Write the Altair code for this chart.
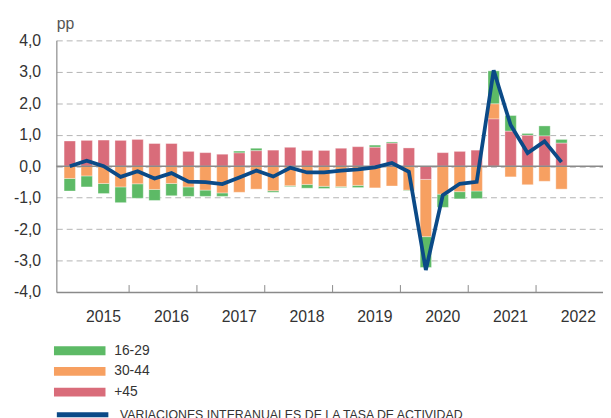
import altair as alt
import pandas as pd

# ---- data ----
years = [2015] * 4 + [2016] * 4 + [2017] * 4 + [2018] * 4 + [2019] * 4 + [2020] * 4 + [2021] * 4 + [2022] * 2
quarters = [1, 2, 3, 4] * 7 + [1, 2]

grupos = ["16-29", "30-44", "+45"]
colores = ["#5dba66", "#f7a061", "#d96c7a"]
orden = {"+45": 0, "30-44": 1, "16-29": 2}

g16_29 = [-0.40, -0.35, -0.32, -0.50, -0.46, -0.35, -0.39, -0.30, -0.20, -0.11,
          0.06, 0.08, -0.05, -0.03, -0.12, -0.07, -0.03, -0.07, 0.07, 0.04,
          -0.02, -0.98, -0.42, -0.23, -0.24, 1.05, 0.50, 0.06, 0.32, 0.12]
g30_44 = [-0.39, -0.31, -0.55, -0.66, -0.56, -0.74, -0.55, -0.66, -0.76, -0.85,
          -0.83, -0.73, -0.78, -0.62, -0.58, -0.64, -0.65, -0.61, -0.69, -0.63,
          -0.76, -1.82, -0.89, -0.81, -0.79, 0.48, -0.34, -0.59, -0.48, -0.73]
g45 = [0.80, 0.82, 0.83, 0.82, 0.85, 0.72, 0.72, 0.47, 0.43, 0.38,
       0.42, 0.49, 0.51, 0.60, 0.50, 0.50, 0.57, 0.62, 0.60, 0.73,
       0.58, -0.42, 0.43, 0.47, 0.51, 1.50, 1.11, 0.98, 0.96, 0.73]
tasa = [0.00, 0.17, 0.00, -0.34, -0.16, -0.39, -0.22, -0.49, -0.51, -0.57,
        -0.36, -0.14, -0.33, -0.05, -0.20, -0.20, -0.14, -0.10, -0.04, 0.10,
        -0.18, -3.30, -0.92, -0.56, -0.50, 3.05, 1.31, 0.42, 0.79, 0.13]
serie_linea = "VARIACIONES INTERANUALES DE LA TASA DE ACTIVIDAD"

year_labels = [2015, 2016, 2017, 2018, 2019, 2020, 2021, 2022]
year_ticks = [2016, 2017, 2018, 2019, 2020, 2021, 2022]
y_ticks = [-4, -3, -2, -1, 0, 1, 2, 3, 4]

# ---- tables ----
xpos = [y + (q - 0.5) / 4 for y, q in zip(years, quarters)]
rows = []
for name, vals in zip(grupos, [g16_29, g30_44, g45]):
    for x, v in zip(xpos, vals):
        rows.append({"x": x, "grupo": name, "valor": v, "orden": orden[name]})
bars_df = pd.DataFrame(rows)
line_df = pd.DataFrame({"x": xpos, "valor": tasa, "serie": serie_linea})
ticks_df = pd.DataFrame({"x": year_ticks, "valor": [-4] * len(year_ticks), "v2": [-3.78] * len(year_ticks)})
zero_df = pd.DataFrame({"valor": [0]})

W, H = 554, 255
xs = alt.Scale(domain=[2015, 2015 + W / 70], nice=False, zero=False)
ys = alt.Scale(domain=[-4, 4], nice=False)

FONT = "Liberation Sans"

x_axis = alt.Axis(
    values=[y + 0.5 for y in year_labels], labelExpr="floor(datum.value)",
    ticks=False, grid=False, labelOffset=8, labelPadding=17, labelFlush=False,
    domainColor="#8a8a8a", domainWidth=1.5, title=None,
    labelFontSize=16, labelColor="#333333", labelFont=FONT)
y_axis = alt.Axis(
    values=y_ticks,
    labelExpr="(datum.value < 0 ? '-' : '') + replace(format(abs(datum.value), '.1f'), '.', ',')",
    grid=True, gridDash=[6, 4], gridColor="#b4b4b4", gridWidth=1,
    ticks=False, domainColor="#8a8a8a", domainWidth=1.2, labelPadding=16,
    labelFontSize=16, labelColor="#333333", labelFont=FONT,
    title="pp", titleAngle=0, titleAlign="left", titleBaseline="alphabetic",
    titleX=0, titleY=-11.7, titleFontSize=16, titleFontWeight="normal",
    titleColor="#555555", titleFont=FONT)

X = alt.X("x:Q", scale=xs, axis=x_axis)

bars = alt.Chart(bars_df).mark_bar(size=11.5, stroke="white", strokeWidth=1, strokeOpacity=0.35).encode(
    x=X,
    y=alt.Y("valor:Q", stack="zero", scale=ys, axis=y_axis),
    fill=alt.Fill("grupo:N", scale=alt.Scale(domain=grupos, range=colores), legend=alt.Legend(
        title=None, orient="none", legendX=14.7, legendY=305.5, direction="vertical",
        symbolType="M-2.9,-0.5H2.9V0.5H-2.9Z", symbolSize=324, symbolStrokeWidth=0,
        labelOffset=26, rowPadding=5, labelFontSize=14, labelColor="#333333", labelFont=FONT)),
    order=alt.Order("orden:Q"),
)

zero = alt.Chart(zero_df).mark_rule(color="#8a8a8a", strokeWidth=1.5).encode(
    y=alt.Y("valor:Q", scale=ys, axis=y_axis))

yticks = alt.Chart(ticks_df).mark_rule(color="#8a8a8a", strokeWidth=1).encode(
    x=X,
    y=alt.Y("valor:Q", scale=ys, axis=y_axis),
    y2="v2",
)

line = alt.Chart(line_df).mark_line(strokeWidth=3.8, strokeJoin="miter").encode(
    x=X,
    y=alt.Y("valor:Q", scale=ys, axis=y_axis),
    stroke=alt.Stroke("serie:N", scale=alt.Scale(domain=[serie_linea], range=["#0b4a87"]), legend=alt.Legend(
        title=None, orient="none", legendX=-2.4, legendY=350.5,
        symbolType="stroke", symbolSize=2725, symbolStrokeWidth=5,
        labelOffset=8.9, labelLimit=600, labelFontSize=12.5, labelColor="#333333", labelFont=FONT)),
)

chart = alt.layer(bars, zero, yticks, line).resolve_legend(fill="independent", stroke="independent").properties(
    width=W, height=H,
    padding={"left": 49, "top": 30, "right": 0, "bottom": 132},
    autosize=alt.AutoSizeParams(type="none"),
    background="white",
).configure_view(stroke=None)

chart.save("out.html", embed_options={"renderer": "svg", "actions": False})
